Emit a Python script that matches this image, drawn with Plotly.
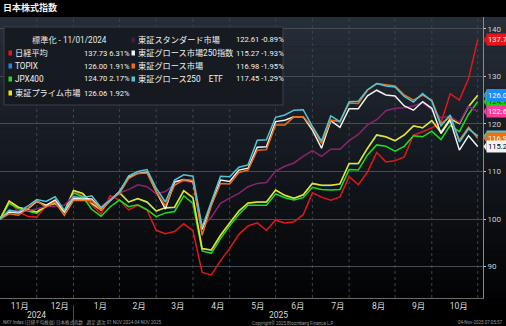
import plotly.graph_objects as go
import pandas as pd

# Weekly (Friday) closes, normalised to 100 on the base date
dates = pd.date_range("2024-11-01", "2025-10-31", freq="W-FRI")

nikkei = [100.00, 103.80, 101.55, 100.61, 100.41, 102.73, 103.72, 101.70, 105.85, 104.84,
          102.99, 101.05, 104.94, 103.99, 101.93, 102.88, 101.90, 97.64, 96.94, 97.37,
          99.01, 97.55, 88.77, 88.26, 91.27, 93.83, 96.79, 98.56, 99.21, 97.65,
          99.77, 99.18, 99.42, 100.92, 105.51, 104.62, 103.98, 104.64, 108.94, 107.22,
          109.90, 113.99, 112.03, 112.26, 113.05, 117.65, 118.37, 119.19, 120.28, 126.37,
          125.04, 129.55, 137.73]
topix = [100.00, 103.75, 102.45, 101.95, 101.45, 102.65, 103.25, 101.55, 105.95, 105.35,
         103.25, 101.85, 103.95, 105.55, 103.55, 104.25, 103.55, 101.65, 102.35, 102.45,
         105.95, 104.45, 93.75, 93.45, 96.55, 99.15, 101.65, 103.35, 103.55, 103.55,
         106.05, 104.95, 104.35, 105.05, 107.45, 107.05, 107.05, 107.35, 111.65, 111.65,
         114.85, 117.65, 117.25, 116.45, 117.65, 119.55, 119.15, 120.65, 118.15, 121.05,
         120.05, 123.64, 126.00]
jpx400 = [100.00, 103.30, 102.20, 101.70, 101.20, 102.80, 103.40, 101.50, 105.50, 104.70,
          102.00, 100.60, 102.60, 104.00, 102.60, 103.00, 102.00, 100.50, 101.30, 101.60,
          104.90, 103.30, 93.30, 92.80, 95.90, 98.60, 101.00, 102.90, 102.90, 102.90,
          105.30, 104.50, 104.00, 104.50, 106.70, 106.20, 106.10, 106.20, 110.40, 110.30,
          113.50, 115.60, 115.30, 114.30, 115.30, 117.50, 117.30, 118.50, 116.70, 119.70,
          118.40, 122.05, 124.70]
prime = [100.00, 103.80, 102.50, 102.00, 101.50, 102.70, 103.30, 101.60, 106.00, 105.40,
         103.30, 101.90, 104.00, 105.60, 103.60, 104.30, 103.60, 101.70, 102.40, 102.50,
         106.00, 104.50, 93.80, 93.50, 96.60, 99.20, 101.70, 103.40, 103.60, 103.60,
         106.10, 105.00, 104.40, 105.10, 107.50, 107.10, 107.10, 107.40, 111.70, 111.70,
         114.90, 117.70, 117.30, 116.50, 117.70, 119.60, 119.20, 120.70, 118.20, 121.10,
         120.10, 123.69, 126.06]
standard = [100.00, 101.50, 101.90, 101.80, 102.10, 102.70, 102.70, 102.90, 104.90, 104.30,
            103.60, 102.60, 104.30, 105.50, 106.20, 107.20, 106.80, 105.30, 105.80, 107.30,
            108.00, 107.70, 98.40, 100.40, 103.30, 104.40, 105.40, 106.80, 107.50, 107.70,
            110.10, 111.10, 111.80, 113.20, 114.40, 113.20, 114.70, 114.70, 116.50, 117.80,
            119.80, 120.90, 122.80, 123.30, 123.40, 123.80, 124.50, 123.00, 121.30, 121.60,
            120.30, 123.71, 122.61]
growth250 = [100.00, 101.50, 101.30, 102.10, 103.70, 102.90, 104.00, 101.50, 104.30, 104.20,
             104.20, 102.00, 104.00, 105.80, 108.80, 109.60, 109.90, 105.80, 102.10, 107.80,
             108.30, 107.90, 97.80, 103.00, 108.20, 107.90, 110.30, 110.70, 115.10, 115.20,
             120.50, 120.80, 121.50, 121.50, 118.70, 114.90, 120.70, 119.30, 123.20, 123.20,
             125.90, 127.10, 126.10, 125.90, 123.80, 122.90, 124.70, 123.30, 118.00, 120.80,
             114.50, 117.54, 115.27]
growth_mkt = [100.00, 101.10, 100.80, 102.20, 103.90, 102.50, 103.60, 100.80, 103.90, 103.90,
              103.90, 101.90, 104.00, 105.40, 108.50, 109.60, 109.70, 105.70, 102.80, 107.10,
              108.30, 108.10, 96.60, 102.80, 107.50, 107.40, 109.80, 110.30, 114.50, 114.60,
              119.80, 119.80, 121.50, 121.50, 119.30, 115.90, 120.80, 120.50, 124.40, 124.30,
              127.10, 128.50, 128.20, 128.00, 126.10, 125.00, 126.10, 125.00, 120.10, 121.50,
              116.60, 119.31, 116.98]
growth250_etf = [100.00, 101.90, 101.50, 102.70, 104.10, 103.70, 104.70, 101.80, 104.70, 104.50,
                 104.90, 102.40, 104.00, 105.70, 109.10, 110.00, 110.40, 106.50, 103.60, 108.20,
                 109.30, 109.00, 98.30, 103.80, 109.00, 108.90, 110.90, 111.40, 116.60, 116.70,
                 121.40, 121.90, 122.90, 123.00, 119.50, 116.40, 121.70, 120.50, 124.70, 124.80,
                 127.20, 128.50, 128.00, 127.80, 125.80, 124.60, 126.40, 124.80, 119.60, 121.90,
                 116.20, 118.98, 117.45]

names = ["日経平均", "TOPIX", "JPX400", "東証プライム市場",
         "東証スタンダード市場", "東証グロース市場250指数", "東証グロース市場", "東証グロース250　ETF"]
values = [nikkei, topix, jpx400, prime, standard, growth250, growth_mkt, growth250_etf]
line_colors = ["#e3161b", "#1f86e8", "#1fdc1f", "#ece31e",
               "#8a2470", "#f2f2f2", "#ec6f16", "#4fc6d6"]
key_colors = ["#e3161b", "#1f86e8", "#1fdc1f", "#ece31e",
              "#4a1a40", "#f2f2f2", "#ec6f16", "#4fc6d6"]
pill_colors = ["#e8141c", "#1a8cff", "#18d018", "#ece31e",
               "#ff3a9e", "#f4f4f4", "#ee6e10", "#4fc6d6"]
pill_text = ["white", "white", "#0a4a0a", "black", "white", "black", "white", "black"]

W_PX, H_PX = 506, 326
L, R, T, B = 0, 23, 17, 28
PW, PH = W_PX - L - R, H_PX - T - B
Y_RANGE = [83.4, 142.5]


def px(x):
    return (x - L) / PW


def py(y):
    return 1 - (y - T) / PH


NUM = "Roboto, Noto Sans CJK JP, sans-serif"
CJK = "Noto Sans CJK JP, sans-serif"

fig = go.Figure()

# Lines: later entries sit on top
for name, v, c in zip(names, values, line_colors):
    fig.add_trace(go.Scatter(x=dates, y=v, name=name, mode="lines",
                             line=dict(color=c, width=1.5), hoverinfo="skip"))

shapes = []
# Background gradient behind plot area and right axis
n_bands = 48
top_c, bot_c = (38, 46, 57), (3, 3, 5)
for k in range(n_bands):
    f = k / (n_bands - 1)
    col = tuple(round(top_c[j] + (bot_c[j] - top_c[j]) * f) for j in range(3))
    y0 = T + PH * k / n_bands
    y1 = T + PH * (k + 1) / n_bands + 0.6
    shapes.append(dict(type="rect", xref="paper", yref="paper", layer="below",
                       x0=px(0), x1=px(W_PX), y0=py(y1), y1=py(y0),
                       fillcolor="rgb(%d,%d,%d)" % col, line=dict(width=0)))

# Dotted verticals at the last weekly point of each month
s = pd.Series(dates, index=dates)
month_ends = s.groupby([dates.year, dates.month]).max().tolist()
for d in month_ends:
    shapes.append(dict(type="line", xref="x", yref="paper", layer="below",
                       x0=d, x1=d, y0=0, y1=1,
                       line=dict(color="#3d444c", width=1, dash="dot")))

# Divider between the year labels
year_break = max(d for d in month_ends if d.year == 2024)
shapes.append(dict(type="line", xref="x", yref="paper", x0=year_break, x1=year_break,
                   y0=py(326), y1=py(305), line=dict(color="#4a4a4a", width=1)))

# Legend panel
shapes.append(dict(type="rect", xref="paper", yref="paper", layer="above",
                   x0=px(4), x1=px(283), y0=py(105), y1=py(27),
                   fillcolor="rgba(22,26,32,0.96)", line=dict(color="#3a4047", width=1)))

annotations = []
base_txt = "標準化 - " + dates[0].strftime("%m/%d/%Y")
annotations.append(dict(xref="paper", yref="paper", x=px(30), y=py(40), text=base_txt,
                        xanchor="left", yanchor="middle", showarrow=False,
                        font=dict(family=NUM, size=8.2, color="#e8e8e8")))

rows = [(8.5, 13, 82, 53), (8.5, 13, 82, 66), (8.5, 13, 82, 79), (8.5, 13, 82, 93),
        (131.5, 136, 234, 40), (131.5, 136, 234, 53), (131.5, 136, 234, 66), (131.5, 136, 234, 79)]
for (sx, nx, vx, ry), name, v, kc in zip(rows, names, values, key_colors):
    shapes.append(dict(type="rect", xref="paper", yref="paper", layer="above",
                       x0=px(sx), x1=px(sx + 3.5), y0=py(ry + 2.5), y1=py(ry - 2.5),
                       fillcolor=kc, line=dict(width=0)))
    annotations.append(dict(xref="paper", yref="paper", x=px(nx), y=py(ry), text=name,
                            xanchor="left", yanchor="middle", showarrow=False,
                            font=dict(family=NUM, size=8.2, color="#f0f0f0")))
    pct = (v[-1] / v[-2] - 1) * 100
    annotations.append(dict(xref="paper", yref="paper", x=px(vx), y=py(ry),
                            text="%.2f %.2f%%" % (v[-1], pct),
                            xanchor="left", yanchor="middle", showarrow=False,
                            font=dict(family=NUM, size=7.6, color="#f0f0f0")))

# Last-value tags on the right axis, each with a small pointer toward the axis
units_per_px = (Y_RANGE[1] - Y_RANGE[0]) / PH
for i in [3, 2, 1, 0, 4, 7, 6, 5]:
    last = values[i][-1]
    half = 4.5 * units_per_px
    shapes.append(dict(type="path", xref="paper", yref="y", layer="above",
                       path="M %f,%f L %f,%f L %f,%f Z" % (px(483.5), last,
                                                         px(486.5), last + half,
                                                         px(486.5), last - half),
                       fillcolor=pill_colors[i], line=dict(width=0)))
    annotations.append(dict(xref="paper", yref="y", x=px(486), y=last,
                            text="%.2f" % last, xanchor="left", yanchor="middle",
                            showarrow=False, bgcolor=pill_colors[i], borderpad=1,
                            font=dict(family=NUM, size=7.6, color=pill_text[i])))

# Year labels centred under their spans
x_end = pd.Timestamp("2025-11-04")
y2024 = pd.Timestamp("2024-11-29")
y2025 = pd.Timestamp("2025-06-01")
for d, t in [(y2024, "2024"), (y2025, "2025")]:
    annotations.append(dict(xref="x", yref="paper", x=d.strftime("%Y-%m-%d"), y=py(314.5),
                            text=t, xanchor="center", yanchor="middle", showarrow=False,
                            font=dict(family=NUM, size=8.5, color="#d8d8d8")))

# Title and footer
annotations.append(dict(xref="paper", yref="paper", x=px(1), y=py(8), text="<b>日本株式指数</b>",
                        xanchor="left", yanchor="middle", showarrow=False,
                        font=dict(family=CJK, size=9, color="#f4f4f4")))
foot = [(1, "left", "NKY Index (日経平均株価) 日本株式指数   週足 週次 01 NOV 2024-04 NOV 2025"),
        (293, "center", "Copyright© 2025 Bloomberg Finance L.P."),
        (505, "right", "04-Nov-2025 07:05:57")]
for fx, anc, t in foot:
    annotations.append(dict(xref="paper", yref="paper", x=px(fx), y=py(322.5), text=t,
                            xanchor=anc, yanchor="middle", showarrow=False,
                            font=dict(family=NUM, size=4.5, color="#9a9a9a")))

fig.update_layout(
    width=W_PX, height=H_PX,
    margin=dict(l=L, r=R, t=T, b=B, pad=0),
    paper_bgcolor="black", plot_bgcolor="rgba(0,0,0,0)",
    showlegend=False,
    shapes=shapes, annotations=annotations,
    xaxis=dict(type="date", range=[dates[0], x_end], tick0="2024-11-01", dtick="M1",
               tickformat="%-m月", ticklabelmode="period", ticks="", showgrid=False,
               showline=True, linecolor="#6a6a6a", linewidth=1, zeroline=False,
               tickfont=dict(family=NUM, size=8.5, color="#d8d8d8")),
    yaxis=dict(side="right", range=Y_RANGE, dtick=10, tick0=0,
               showgrid=True, gridcolor="#454c55", gridwidth=1, zeroline=False,
               showline=True, linecolor="#8a8a8a", linewidth=1,
               ticks="outside", ticklen=2, tickcolor="#c8c8c8",
               tickfont=dict(family=NUM, size=8, color="#d0d0d0")),
)

fig.write_html("out.html")
